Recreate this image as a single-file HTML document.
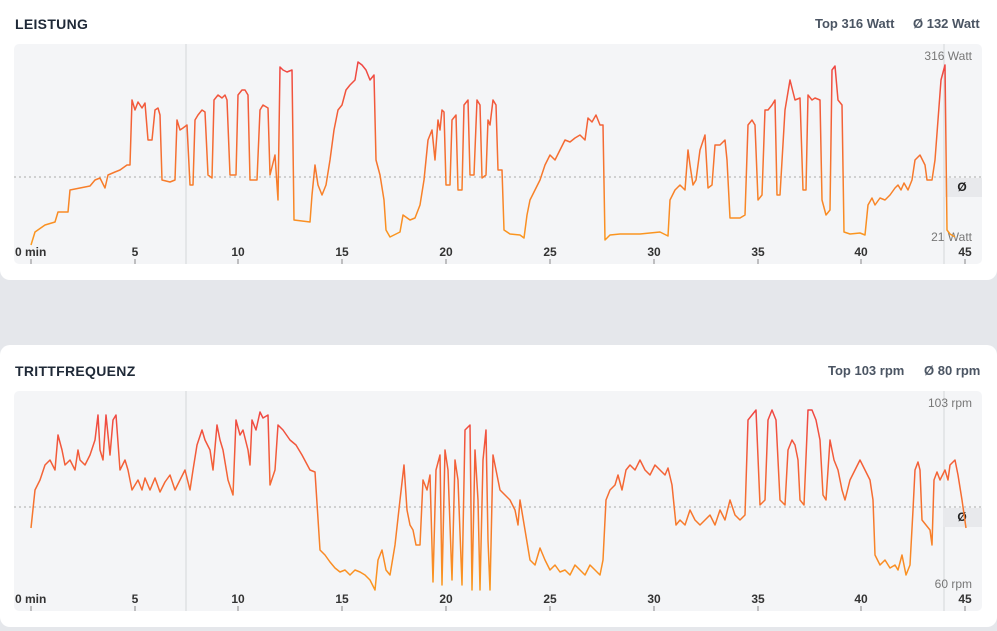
<!DOCTYPE html>
<html><head><meta charset="utf-8"><style>
body{margin:0;width:997px;height:631px;background:#e5e7eb;font-family:"Liberation Sans",sans-serif;position:relative;overflow:hidden}
.card{position:absolute;left:0;width:997px;background:#fff;border-radius:10px}
.t{position:absolute;font-weight:bold;font-size:14px;color:#1f2937;letter-spacing:.3px}
.s{position:absolute;font-weight:bold;font-size:13px;color:#4b5563}
svg{position:absolute;left:0;top:0}
</style></head><body>
<div class="card" style="top:-10px;height:290px"></div>
<div class="card" style="top:345px;height:282px"></div>
<div class="t" style="left:15px;top:16px">LEISTUNG</div>
<div class="s" style="left:815px;top:16px">Top 316 Watt</div>
<div class="s" style="left:913px;top:16px">Ø 132 Watt</div>
<div class="t" style="left:15px;top:363px">TRITTFREQUENZ</div>
<div class="s" style="left:828px;top:363px">Top 103 rpm</div>
<div class="s" style="left:924px;top:363px">Ø 80 rpm</div>
<svg width="997" height="631" font-family="Liberation Sans, sans-serif">
<defs>
<linearGradient id="g1" gradientUnits="userSpaceOnUse" x1="0" y1="60" x2="0" y2="245"><stop offset="0" stop-color="#ef4444"/><stop offset="1" stop-color="#fb9a1e"/></linearGradient>
<linearGradient id="g2" gradientUnits="userSpaceOnUse" x1="0" y1="405" x2="0" y2="592"><stop offset="0" stop-color="#ef4444"/><stop offset="1" stop-color="#fb9a1e"/></linearGradient>
</defs>
<rect x="14" y="44" width="968" height="220" rx="5" fill="#f4f5f7"/>
<rect x="14" y="391" width="968" height="220" rx="5" fill="#f4f5f7"/>
<line x1="186" y1="44" x2="186" y2="264" stroke="#d4d6da"/>
<line x1="944" y1="44" x2="944" y2="264" stroke="#d4d6da"/>
<line x1="186" y1="391" x2="186" y2="611" stroke="#d4d6da"/>
<line x1="944" y1="391" x2="944" y2="611" stroke="#d4d6da"/>
<line x1="14" y1="177" x2="982" y2="177" stroke="#aaa" stroke-dasharray="2,3"/>
<line x1="14" y1="507" x2="982" y2="507" stroke="#aaa" stroke-dasharray="2,3"/>
<rect x="943" y="178" width="39" height="19" fill="#e8e9ec"/>
<rect x="943" y="508" width="39" height="19" fill="#e8e9ec"/>
<text x="962" y="191" font-size="12" font-weight="bold" fill="#222" text-anchor="middle">Ø</text>
<text x="962" y="521" font-size="12" font-weight="bold" fill="#222" text-anchor="middle">Ø</text>
<g font-size="12" fill="#777" text-anchor="end">
<text x="972" y="60">316 Watt</text><text x="972" y="241">21 Watt</text>
<text x="972" y="407">103 rpm</text><text x="972" y="588">60 rpm</text>
</g>
<g font-size="12" font-weight="bold" fill="#333" text-anchor="middle">
<text x="31" y="256" text-anchor="start" dx="-16">0 min</text><text x="135" y="256">5</text><text x="238" y="256">10</text><text x="342" y="256">15</text><text x="446" y="256">20</text><text x="550" y="256">25</text><text x="654" y="256">30</text><text x="758" y="256">35</text><text x="861" y="256">40</text><text x="965" y="256">45</text>
<text x="31" y="603" text-anchor="start" dx="-16">0 min</text><text x="135" y="603">5</text><text x="238" y="603">10</text><text x="342" y="603">15</text><text x="446" y="603">20</text><text x="550" y="603">25</text><text x="654" y="603">30</text><text x="758" y="603">35</text><text x="861" y="603">40</text><text x="965" y="603">45</text>
</g>
<g stroke="#888"><path d="M31 259v5M135 259v5M238 259v5M342 259v5M446 259v5M550 259v5M654 259v5M758 259v5M861 259v5M965 259v5M31 606v5M135 606v5M238 606v5M342 606v5M446 606v5M550 606v5M654 606v5M758 606v5M861 606v5M965 606v5"/></g>
<polyline fill="none" stroke="url(#g1)" stroke-width="1.5" stroke-linejoin="round" points="31,245 35,232 45,225 55,222 58,212 68,212 70,190 80,188 90,186 95,180 100,178 105,188 108,175 115,172 120,170 127,165 130,165 132,100 135,110 138,102 142,108 145,103 148,140 152,140 155,110 158,108 160,115 162,180 170,182 175,180 177,120 180,130 183,128 187,125 190,185 193,185 195,120 198,115 202,110 205,112 208,175 212,178 214,100 218,95 222,98 225,95 227,100 230,175 236,175 238,95 242,90 245,90 248,95 250,180 257,180 260,110 263,105 268,108 270,175 275,155 278,200 280,67 283,70 287,72 292,70 294,220 310,222 312,195 315,165 318,185 322,195 326,185 330,160 334,130 338,110 342,105 346,90 350,85 355,80 358,62 362,65 366,70 370,80 374,75 376,160 380,175 384,200 386,230 390,237 400,232 403,215 410,220 415,218 420,205 424,180 428,140 432,130 435,160 438,120 440,130 442,110 444,112 446,185 450,185 452,120 456,115 458,190 462,190 464,105 468,100 470,175 474,175 477,100 480,105 482,178 486,175 488,120 490,125 493,100 496,105 498,170 502,170 504,230 510,234 520,235 524,238 527,215 530,200 535,190 540,180 545,165 550,155 555,160 560,150 565,140 570,142 575,138 580,135 585,140 588,118 592,122 596,115 600,125 603,125 605,240 610,235 620,234 640,234 660,232 668,236 670,200 675,190 680,185 685,190 688,150 690,165 693,185 696,180 700,150 705,135 708,188 712,185 715,145 720,145 725,140 727,160 730,218 740,218 745,215 748,125 752,120 755,125 758,200 762,195 765,110 768,110 772,105 775,100 777,195 780,195 785,110 790,80 795,100 800,98 803,190 806,190 808,95 812,100 815,98 820,100 822,200 826,215 830,210 832,70 835,66 838,100 842,105 844,232 850,234 860,233 865,235 868,205 872,198 875,205 880,198 885,200 890,195 895,188 898,185 901,190 904,183 908,190 912,180 915,160 920,155 925,165 927,180 932,180 935,160 938,120 941,80 945,65 947,230 950,234 955,237"/>
<polyline fill="none" stroke="url(#g2)" stroke-width="1.5" stroke-linejoin="round" points="31,528 35,490 40,480 45,465 50,460 55,470 58,435 62,450 65,465 70,460 75,470 78,450 80,460 85,465 90,455 95,440 98,415 100,450 103,460 106,415 110,455 113,420 116,415 120,470 125,460 128,470 132,490 138,480 142,490 145,478 150,490 155,478 160,492 165,482 170,475 175,490 180,480 185,470 190,490 193,470 197,445 202,430 205,440 210,450 213,470 217,425 220,440 223,450 228,480 233,495 236,420 240,435 243,430 248,450 250,465 252,420 256,430 260,412 263,418 268,415 270,485 275,470 278,425 283,430 290,440 296,445 302,455 310,470 315,472 320,550 325,555 330,562 335,568 340,572 345,570 350,575 355,570 360,572 365,575 370,580 375,590 378,560 382,550 386,570 390,575 395,545 400,500 404,465 407,510 410,525 413,530 416,545 420,545 423,480 427,490 430,475 433,582 436,470 440,455 442,585 445,450 448,470 452,580 455,460 458,480 462,585 465,430 470,425 472,590 475,450 478,500 480,590 483,460 486,430 488,540 490,590 493,455 497,475 500,490 505,495 510,500 515,510 518,525 520,500 525,530 530,560 535,565 540,548 545,560 550,570 555,565 560,572 565,570 570,575 575,565 580,570 585,575 590,565 595,570 600,575 603,560 606,500 610,490 615,485 618,475 622,490 626,470 630,465 635,470 640,460 645,470 650,475 655,465 660,470 665,475 668,468 672,485 676,525 680,520 685,525 690,510 695,520 700,525 705,520 710,515 715,525 720,510 725,520 730,500 735,515 740,520 745,515 748,420 752,415 756,410 760,505 765,500 768,420 772,410 776,420 780,500 785,505 788,450 792,440 795,445 798,460 800,500 804,505 808,410 812,410 816,420 820,440 823,495 826,500 830,440 834,460 838,470 842,490 845,500 850,480 855,470 860,460 865,470 870,480 873,500 875,555 880,565 885,560 890,568 895,565 898,570 902,555 906,575 910,565 913,510 915,470 918,462 920,470 922,520 926,525 930,530 932,545 934,480 937,472 940,480 945,470 948,480 950,465 955,460 958,475 962,500 966,528"/>
</svg>
</body></html>
